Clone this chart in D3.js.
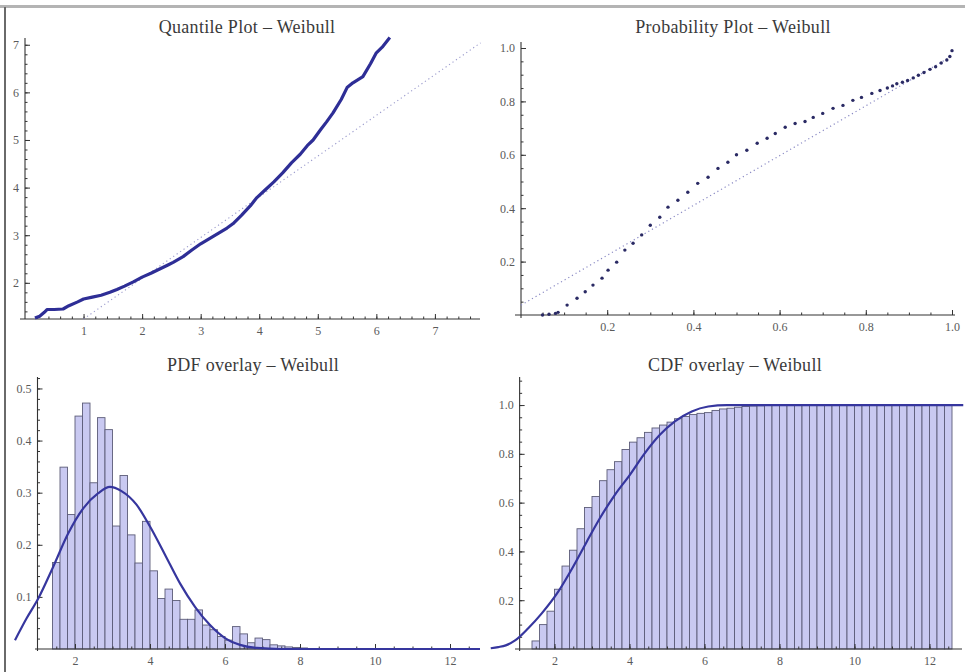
<!DOCTYPE html>
<html><head><meta charset="utf-8">
<script src="https://cdn.jsdelivr.net/npm/d3@7"></script>
<style>
body{margin:0;background:#fff;}
svg{display:block;background:#fff;}
text{font-family:"Liberation Serif","Times New Roman",serif;}
</style></head><body>
<svg id="c" width="965" height="672"></svg>
<script>
// ---------- DATA ----------
const titles = ["Quantile Plot \u2013 Weibull", "Probability Plot \u2013 Weibull", "PDF overlay \u2013 Weibull", "CDF overlay \u2013 Weibull"];

// Quantile plot: data quantiles (x = theoretical, y = sample)
const quantileX = [0.17,0.25,0.33,0.38,0.5,0.65,0.75,0.9,1.0,1.15,1.3,1.45,1.57,1.7,1.85,2.0,2.15,2.3,2.45,2.53,2.7,2.85,3.0,3.15,3.3,3.45,3.55,3.7,3.85,3.96,4.1,4.25,4.4,4.55,4.7,4.82,4.92,5.05,5.15,5.26,5.4,5.5,5.6,5.77,5.9,6.0,6.1,6.23];
const quantileY = [1.26,1.30,1.38,1.44,1.44,1.45,1.52,1.60,1.66,1.70,1.74,1.80,1.86,1.93,2.02,2.12,2.20,2.29,2.38,2.43,2.55,2.69,2.82,2.93,3.04,3.15,3.24,3.42,3.62,3.79,3.95,4.12,4.31,4.52,4.70,4.88,5.00,5.22,5.38,5.57,5.85,6.10,6.20,6.33,6.60,6.83,6.95,7.15];
const quantileRefX = [1.0, 7.78];
const quantileRefY = [1.24, 7.04];

// Probability plot
const probX = [0.05,0.065,0.08,0.086,0.107,0.13,0.149,0.167,0.188,0.202,0.222,0.241,0.26,0.28,0.30,0.322,0.341,0.364,0.387,0.41,0.434,0.457,0.48,0.50,0.524,0.548,0.571,0.59,0.613,0.636,0.659,0.678,0.70,0.724,0.747,0.77,0.79,0.814,0.833,0.85,0.862,0.872,0.885,0.897,0.91,0.922,0.935,0.949,0.962,0.975,0.988,0.995,1.0];
const probY = [0.0,0.003,0.006,0.01,0.037,0.063,0.087,0.112,0.138,0.168,0.198,0.243,0.269,0.30,0.336,0.366,0.404,0.43,0.46,0.493,0.516,0.549,0.572,0.60,0.617,0.643,0.662,0.68,0.703,0.717,0.725,0.74,0.755,0.774,0.785,0.804,0.815,0.83,0.841,0.85,0.858,0.866,0.872,0.878,0.888,0.898,0.908,0.92,0.93,0.944,0.955,0.968,0.99];
const probRefX = [0.0, 1.0];
const probRefY = [0.037, 0.97];

// PDF histogram (bins of width 0.2 starting at 1.4)
const binStart = 1.4, binWidth = 0.2;
const pdfBins = [0.166,0.349,0.258,0.447,0.472,0.319,0.444,0.421,0.236,0.333,0.219,0.165,0.245,0.15,0.097,0.115,0.093,0.057,0.057,0.075,0.046,0.037,0.024,0.017,0.043,0.029,0.012,0.021,0.018,0.008,0.006,0.004,0.003,0.002];
const pdfCurveX = [0.4,0.71,1.02,1.42,1.82,2.22,2.62,2.93,3.24,3.64,4.0,4.4,4.8,5.2,5.6,6.0,6.4,6.85,7.5,12.8];
const pdfCurveY = [0.017,0.059,0.097,0.158,0.222,0.27,0.299,0.311,0.303,0.277,0.235,0.181,0.126,0.081,0.046,0.021,0.008,0.002,0.0,0.0];

// CDF histogram
const cdfBins = [0.033,0.100,0.155,0.245,0.340,0.405,0.493,0.580,0.625,0.690,0.735,0.768,0.818,0.848,0.866,0.888,0.906,0.918,0.930,0.944,0.953,0.961,0.966,0.969,0.978,0.984,0.987,0.991,0.994,0.996,0.997,0.998,0.999,
  1,1,1,1,1,1,1,1,1,1,1,1,1,1,1,1,1,1,1,1,1,1,1];
const cdfCurveX = [0.3,0.5,0.7,0.95,1.3,1.66,2.1,2.5,2.86,3.21,3.61,4.01,4.41,4.81,5.21,5.66,6.1,6.6,7.0,12.9];
const cdfCurveY = [0.003,0.008,0.015,0.035,0.085,0.146,0.235,0.338,0.44,0.536,0.632,0.714,0.803,0.878,0.933,0.974,0.994,1.0,1.0,1.0];

// Tick labels
const qXTicks = [1,2,3,4,5,6,7], qYTicks = [2,3,4,5,6,7];
const pXTicks = [0.2,0.4,0.6,0.8,1.0], pYTicks = [0.2,0.4,0.6,0.8,1.0];
const dXTicks = [2,4,6,8,10,12], dYTicks = [0.1,0.2,0.3,0.4,0.5];
const cXTicks = [2,4,6,8,10,12], cYTicks = [0.2,0.4,0.6,0.8,1.0];

// ---------- DRAW ----------
const svg = d3.select("#c");
const curveCol = "#36369e", barFill = "#c9c9f1", barStroke = "#5c5c78", axisCol = "#333";

// frame
svg.append("line").attr("x1",0).attr("x2",965).attr("y1",6.5).attr("y2",6.5).attr("stroke","#b4b4b4").attr("stroke-width",3);
svg.append("line").attr("x1",5).attr("x2",5).attr("y1",7).attr("y2",672).attr("stroke","#6a6a6a").attr("stroke-width",2);

function rangeStep(a, b, s) { const out = []; for (let v = a; v <= b + 1e-9; v += s) out.push(+v.toFixed(4)); return out; }

function axes(g, x, y, o) {
  const xa = g.append("g").attr("transform", `translate(0,${y(o.xAt)})`);
  xa.append("line").attr("x1", o.xLine[0]).attr("x2", o.xLine[1]).attr("stroke", axisCol).attr("stroke-width", 1.1);
  xa.append("g").call(d3.axisBottom(x).tickValues(o.xMinor).tickSizeInner(-2.5).tickSizeOuter(0).tickFormat(""));
  xa.append("g").call(d3.axisBottom(x).tickValues(o.xMajor).tickSizeInner(-5).tickSizeOuter(0).tickPadding(7).tickFormat(o.xFmt));
  const ya = g.append("g").attr("transform", `translate(${x(o.yAt)},0)`);
  ya.append("line").attr("y1", o.yLine[0]).attr("y2", o.yLine[1]).attr("stroke", axisCol).attr("stroke-width", 1.1);
  ya.append("g").call(d3.axisLeft(y).tickValues(o.yMinor).tickSizeInner(-2.5).tickSizeOuter(0).tickFormat(""));
  ya.append("g").call(d3.axisLeft(y).tickValues(o.yMajor).tickSizeInner(-5).tickSizeOuter(0).tickPadding(6).tickFormat(o.yFmt));
  g.selectAll(".domain").remove();
  g.selectAll(".tick line").attr("stroke", axisCol);
  g.selectAll(".tick text").attr("fill", "#5a5a5a").style("font-size", "12px").style("font-family", "'Liberation Serif',serif");
}

function title(txt, cx, cy) {
  svg.append("text").attr("x", cx).attr("y", cy).attr("text-anchor", "middle").attr("dominant-baseline", "central")
    .style("font-size", "18px").style("letter-spacing", "0.3px").attr("fill", "#3a3a3a").text(txt);
}

// ---- Panel 1: Quantile plot ----
{
  const g = svg.append("g");
  const x = d3.scaleLinear().domain([0, 7.77]).range([25, 480]);
  const y = d3.scaleLinear().domain([1.24, 7.1]).range([319, 40]);
  title(titles[0], 247, 27);
  axes(g, x, y, {xAt: 1.24, xLine: [20, 480], xMajor: qXTicks, xMinor: rangeStep(0.2, 7.6, 0.2), xFmt: d3.format("d"),
    yAt: 0, yLine: [319, 38], yMajor: qYTicks, yMinor: rangeStep(1.4, 7.0, 0.2), yFmt: d3.format("d")});
  g.append("path").datum(d3.zip(quantileRefX, quantileRefY))
    .attr("d", d3.line().x(d => x(d[0])).y(d => y(d[1])))
    .attr("fill", "none").attr("stroke", "#9a9acc").attr("stroke-width", 1.1).attr("stroke-dasharray", "1.2,3");
  g.append("path").datum(d3.zip(quantileX, quantileY))
    .attr("d", d3.line().x(d => x(d[0])).y(d => y(d[1])))
    .attr("fill", "none").attr("stroke", "#2e2e96").attr("stroke-width", 3.2).attr("stroke-linejoin", "round");
}

// ---- Panel 2: Probability plot ----
{
  const g = svg.append("g");
  const x = d3.scaleLinear().domain([0, 1.0]).range([521, 952]);
  const y = d3.scaleLinear().domain([0, 1.0]).range([315, 48]);
  title(titles[1], 733, 27);
  axes(g, x, y, {xAt: 0, xLine: [515, 955], xMajor: pXTicks, xMinor: rangeStep(0.05, 1.0, 0.05), xFmt: d3.format(".1f"),
    yAt: 0, yLine: [318, 42], yMajor: pYTicks, yMinor: rangeStep(0.05, 1.0, 0.05), yFmt: d3.format(".1f")});
  g.append("path").datum(d3.zip(probRefX, probRefY))
    .attr("d", d3.line().x(d => x(d[0])).y(d => y(d[1])))
    .attr("fill", "none").attr("stroke", "#8a8ac4").attr("stroke-width", 1.2).attr("stroke-dasharray", "1.2,3");
  g.selectAll("circle.p").data(d3.zip(probX, probY)).join("circle")
    .attr("cx", d => x(d[0])).attr("cy", d => y(d[1])).attr("r", 1.7).attr("fill", "#2a2a64");
}

// ---- Panel 3: PDF overlay ----
{
  const g = svg.append("g");
  const x = d3.scaleLinear().domain([0, 12.8]).range([0, 480]);
  const y = d3.scaleLinear().domain([0, 0.522]).range([649, 377]);
  title(titles[2], 253, 365);
  g.selectAll("rect").data(pdfBins).join("rect")
    .attr("x", (d, i) => x(binStart + i * binWidth)).attr("width", x(binWidth) - x(0))
    .attr("y", d => y(d)).attr("height", d => y(0) - y(d))
    .attr("fill", barFill).attr("stroke", barStroke).attr("stroke-width", 0.9);
  axes(g, x, y, {xAt: 0, xLine: [35, 480], xMajor: dXTicks, xMinor: rangeStep(1.5, 12.5, 0.5), xFmt: d3.format("d"),
    yAt: 1.0, yLine: [651, 377], yMajor: dYTicks, yMinor: rangeStep(0.02, 0.52, 0.02), yFmt: d3.format(".1f")});
  g.append("path").datum(d3.zip(pdfCurveX, pdfCurveY))
    .attr("d", d3.line().curve(d3.curveMonotoneX).x(d => x(d[0])).y(d => y(d[1])))
    .attr("fill", "none").attr("stroke", curveCol).attr("stroke-width", 2.2);
}

// ---- Panel 4: CDF overlay ----
{
  const g = svg.append("g");
  const x = d3.scaleLinear().domain([0, 12.7]).range([479.5, 955.75]);
  const y = d3.scaleLinear().domain([0, 1.115]).range([649, 377]);
  title(titles[3], 735, 365);
  g.selectAll("rect").data(cdfBins).join("rect")
    .attr("x", (d, i) => x(binStart + i * binWidth)).attr("width", x(binWidth) - x(0))
    .attr("y", d => y(d)).attr("height", d => y(0) - y(d))
    .attr("fill", barFill).attr("stroke", barStroke).attr("stroke-width", 0.9);
  axes(g, x, y, {xAt: 0, xLine: [515, 962], xMajor: cXTicks, xMinor: rangeStep(1.5, 12.5, 0.5), xFmt: d3.format("d"),
    yAt: 1.07, yLine: [651, 377], yMajor: cYTicks, yMinor: rangeStep(0.05, 1.1, 0.05), yFmt: d3.format(".1f")});
  g.append("path").datum(d3.zip(cdfCurveX, cdfCurveY))
    .attr("d", d3.line().curve(d3.curveMonotoneX).x(d => x(d[0])).y(d => y(d[1])))
    .attr("fill", "none").attr("stroke", curveCol).attr("stroke-width", 2.2);
}
</script>
</body></html>
